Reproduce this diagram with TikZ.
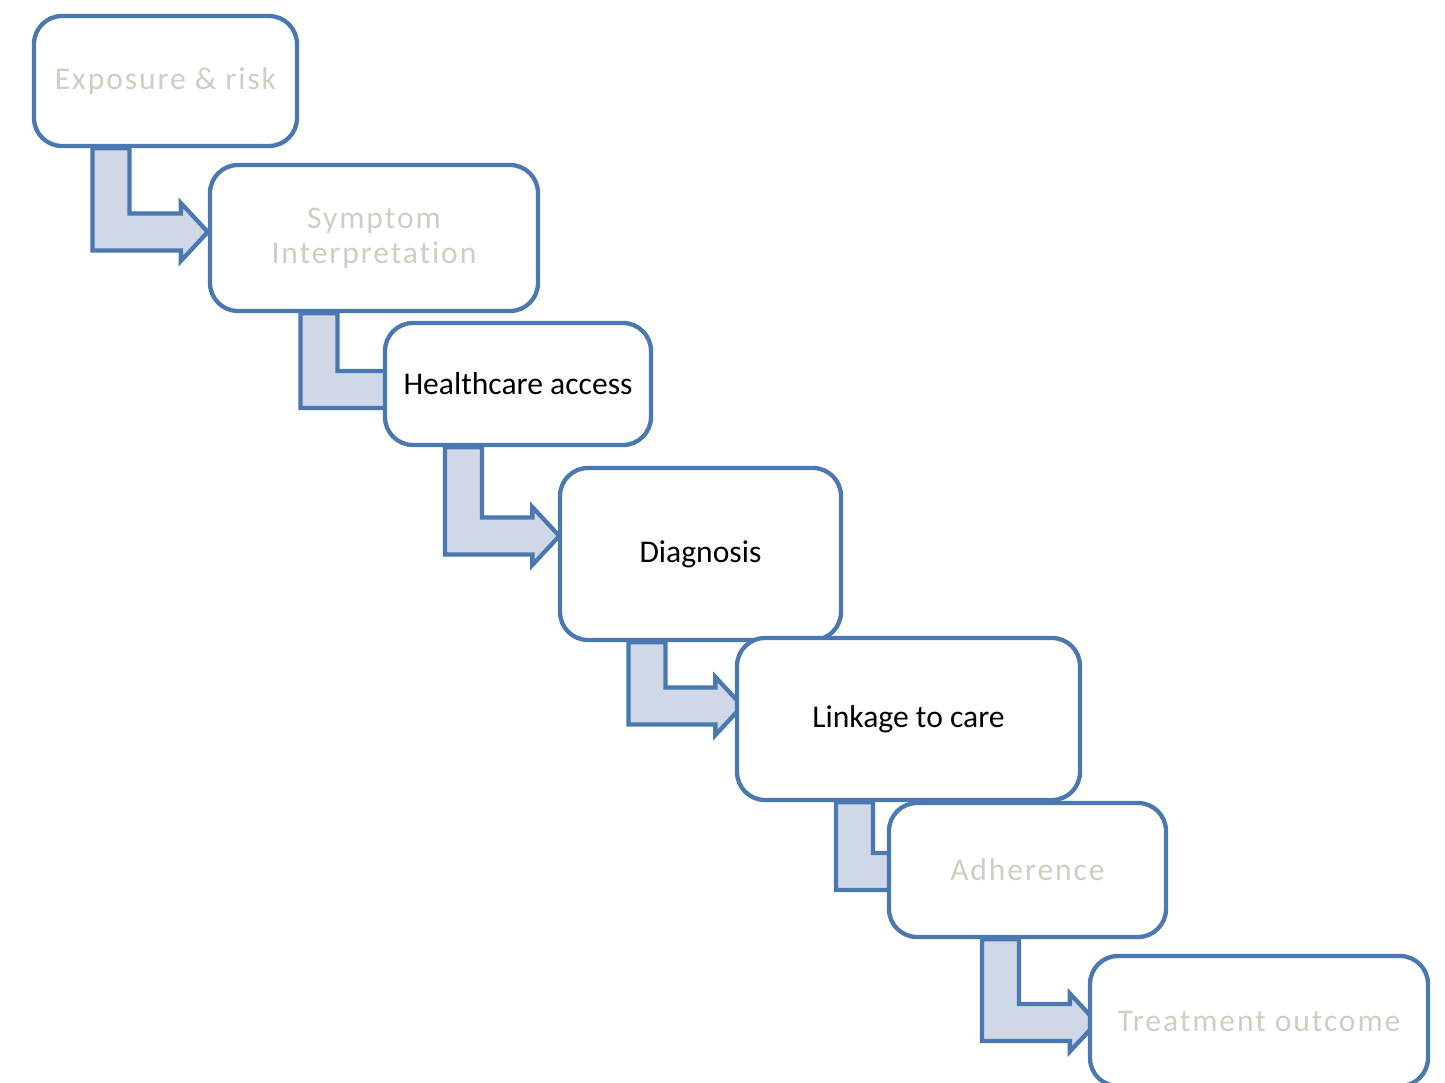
\documentclass[tikz,border=0pt]{standalone}
\usepackage{fontspec}
\setmainfont{Carlito}
\newfontfamily\spacedfont[LetterSpace=6, Ligatures=NoCommon]{Carlito}
\usetikzlibrary{calc, backgrounds}

\definecolor{edgeblue}{HTML}{4A78B0}
\definecolor{arrowfill}{HTML}{D0D8E8}
\definecolor{fadedtext}{HTML}{D0CEC3}

\tikzset{
  stage/.style={draw=edgeblue, line width=4.3pt, fill=white, rounded corners=28pt,
    inner sep=0pt, align=center},
  faded/.style={font=\spacedfont\fontsize{31.6}{35}\selectfont, text=fadedtext},
  plain/.style={font=\fontsize{31.6}{35}\selectfont, text=black},
  bent/.style={draw=edgeblue, line width=4.3pt, fill=arrowfill, line join=miter},
}

% Bent block arrow: leaves the bottom of #1, turns right into #2.
% #3 = left x of the vertical shaft, #4 = centre y of the horizontal shaft,
% #5 = gap between the arrow head base and the west side of #2.
\newcommand{\stagearrow}[5]{%
  \draw[bent] let \p1=(#1.south), \p2=(#2.west) in
    (#3pt,\y1) -- (#3pt+37pt,\y1) -- (#3pt+37pt,-#4pt+18.5pt)
    -- (\x2-#5pt,-#4pt+18.5pt) -- (\x2-#5pt,-#4pt+29pt)
    -- (\x2-#5pt+27pt,-#4pt) -- (\x2-#5pt,-#4pt-29pt)
    -- (\x2-#5pt,-#4pt-18.5pt) -- (#3pt,-#4pt-18.5pt) -- cycle;}

\begin{document}
\begin{tikzpicture}[x=1pt, y=-1pt]
  \useasboundingbox (0,0) rectangle (1445,1083);
  \clip (0,0) rectangle (1445,1083);

  % stage boxes, each later one overlapping the one before
  \node[stage, faded, minimum width=263pt, minimum height=130pt] (exposure)  at (165.5,81)   {Exposure \& risk};
  \node[stage, faded, minimum width=328pt, minimum height=146pt] (symptom)   at (374,238)    {Symptom\\Interpretation};
  \node[stage, plain, minimum width=266pt, minimum height=122pt] (access)    at (518,384)    {Healthcare access};
  \node[stage, plain, minimum width=281pt, minimum height=172pt] (diagnosis) at (700.5,554)  {Diagnosis};
  \node[stage, plain, minimum width=343pt, minimum height=162pt] (linkage)   at (908.5,719)  {Linkage to care};
  \node[stage, faded, minimum width=277pt, minimum height=134pt] (adherence) at (1027.5,870) {Adherence};
  \node[stage, faded, minimum width=338pt, minimum height=130pt] (outcome)   at (1259,1021)  {Treatment outcome};

  % connectors, underneath the boxes
  \begin{scope}[on background layer]
    \stagearrow{exposure}{symptom}{92.5}{232}{27}
    \stagearrow{symptom}{access}{300.5}{389.5}{-5}
    \stagearrow{access}{diagnosis}{445}{536}{25.5}
    \stagearrow{diagnosis}{linkage}{628.5}{706}{19.5}
    \stagearrow{linkage}{adherence}{836}{871.5}{-5}
    \stagearrow{adherence}{outcome}{982}{1022.5}{18}
  \end{scope}
\end{tikzpicture}
\end{document}
